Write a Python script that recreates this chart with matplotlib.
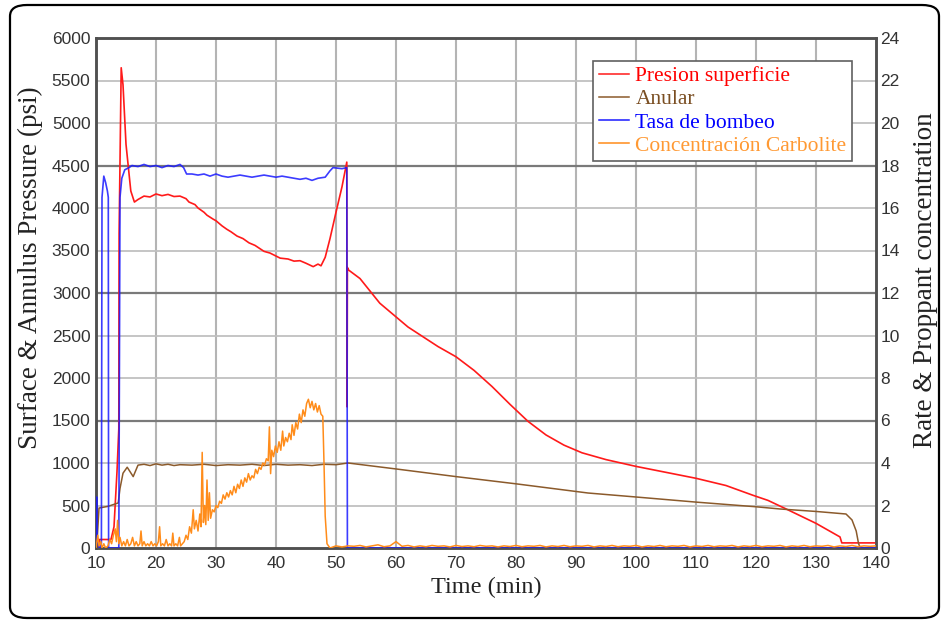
import matplotlib
matplotlib.use("Agg")
import matplotlib.pyplot as plt
from matplotlib.patches import FancyBboxPatch
from matplotlib.lines import Line2D

# ---- Presion superficie (psi) ----
pres_t = [10.3, 10.6, 12.5, 13.0, 13.5, 13.8, 13.85, 14.2, 14.5, 15.0, 15.8, 16.4, 17.0, 18.0,
          19.0, 20.0, 21.0, 22.0, 23.0, 24.0, 25.0, 25.5, 26.5, 27.0, 28.0, 28.5, 29.5, 30.0,
          31.0, 31.8, 32.5, 33.5, 34.5, 35.5, 36.5, 38.0, 39.0, 40.7, 42.0, 43.0, 44.0, 45.0,
          46.2, 47.0, 47.5, 48.2, 49.0, 50.0, 51.0, 51.8, 51.85, 51.9, 52.1, 54.0, 57.3, 62.0,
          67.0, 70.0, 73.0, 76.0, 79.0, 82.0, 85.0, 88.0, 91.0, 95.0, 100.0, 105.0, 110.0,
          115.0, 119.5, 122.0, 125.0, 130.0, 134.0, 134.3, 140.0]
pres_v = [0, 100, 100, 250, 900, 1400, 3700, 5650, 5450, 4750, 4200, 4070, 4100, 4140,
          4130, 4165, 4145, 4160, 4135, 4140, 4110, 4070, 4040, 4000, 3950, 3915, 3870, 3850,
          3790, 3750, 3720, 3670, 3640, 3590, 3560, 3490, 3470, 3410, 3400, 3375, 3380, 3350,
          3310, 3340, 3320, 3420, 3640, 3950, 4250, 4540, 1660, 3300, 3270, 3170, 2880, 2600,
          2370, 2250, 2090, 1900, 1690, 1490, 1330, 1210, 1120, 1040, 960, 890, 820,
          735, 620, 560, 460, 290, 130, 60, 60]

# ---- Anular (psi) ----
anul_t = [10.2, 10.5, 12.0, 13.7, 14.0, 14.5, 15.2, 16.2, 17.0, 18.0, 19.0, 20.0, 21.0,
          22.0, 23.0, 24.0, 26.0, 28.0, 30.0, 32.0, 34.0, 36.0, 38.0, 40.0, 42.0, 44.0,
          46.0, 48.0, 50.0, 52.0, 60.0, 70.0, 80.0, 92.0, 100.0, 110.0, 120.0, 124.0,
          130.0, 135.0, 136.0, 136.7, 137.1, 137.4, 140.0]
anul_v = [100, 470, 490, 530, 700, 880, 950, 840, 975, 985, 970, 990, 975,
          985, 970, 980, 975, 985, 970, 980, 975, 985, 970, 985, 975, 980,
          970, 985, 980, 1000, 930, 840, 755, 647, 600, 540, 485, 459,
          430, 400, 330, 200, 50, 0, 0]

# ---- Tasa de bombeo (right axis) ----
rate_t = [10.0, 10.1, 10.2, 10.6, 10.9, 11.0, 11.3, 11.6, 11.9, 12.05, 12.1, 13.8, 14.0,
          14.3, 14.8, 15.5, 16.0, 17.0, 18.0, 19.0, 20.0, 21.0, 22.0, 23.0, 24.0, 24.6,
          25.1, 26.0, 27.0, 28.0, 29.0, 30.0, 31.0, 32.0, 33.0, 34.0, 35.0, 36.0, 37.0,
          38.0, 39.0, 40.0, 41.0, 42.0, 43.0, 44.0, 45.0, 46.0, 47.0, 48.2, 49.0, 49.5,
          51.0, 51.8, 51.9, 140.0]
rate_v = [0, 2.4, 0.3, 0, 0.2, 16.5, 17.5, 17.2, 16.8, 16.5, 0, 0, 16.5,
          17.4, 17.8, 17.9, 18.0, 17.95, 18.05, 17.95, 18.0, 17.9, 18.0, 17.95, 18.05, 17.9,
          17.6, 17.6, 17.55, 17.6, 17.5, 17.6, 17.5, 17.45, 17.5, 17.55, 17.5, 17.45, 17.5,
          17.55, 17.5, 17.45, 17.5, 17.45, 17.4, 17.35, 17.4, 17.3, 17.4, 17.45, 17.75, 17.9,
          17.85, 17.9, 0, 0]

# ---- Concentracion Carbolite (right axis), in three stretches ----
conc_early_t = [10.0, 10.3, 10.5, 10.8, 11.0, 11.3, 11.6, 12.0, 12.3, 12.6, 12.9, 13.2, 13.4,
                13.6, 13.8, 14.0, 14.3, 14.6, 14.9, 15.2, 15.5, 15.8, 16.1, 16.4, 16.7, 17.0,
                17.3, 17.5, 17.7, 18.0, 18.3, 18.6, 18.9, 19.2, 19.5, 19.8, 20.1, 20.4, 20.6,
                20.8, 21.1, 21.4, 21.7, 22.0, 22.3, 22.6, 22.8, 23.0, 23.3, 23.6, 23.9, 24.1,
                24.4]
conc_early_v = [0.0, 0.6, 0.1, 0.3, 0.0, 0.2, 0.0, 0.1, 0.4, 0.2, 0.6, 0.9, 0.3,
                1.3, 0.2, 0.5, 0.1, 0.3, 0.1, 0.4, 0.1, 0.2, 0.5, 0.1, 0.3, 0.1,
                0.2, 0.8, 0.1, 0.3, 0.1, 0.2, 0.1, 0.3, 0.1, 0.2, 0.1, 0.3, 1.0,
                0.1, 0.2, 0.1, 0.4, 0.1, 0.2, 0.1, 0.7, 0.1, 0.2, 0.1, 0.5, 0.1,
                0.2]
conc_ramp_t = [24.7, 25.0, 25.3, 25.6, 25.9, 26.2, 26.4, 26.7, 27.0, 27.3, 27.5, 27.7,
               27.9, 28.1, 28.3, 28.5, 28.7, 28.9, 29.1, 29.4, 29.7, 30.0, 30.3, 30.6, 30.9,
               31.2, 31.5, 31.8, 32.1, 32.4, 32.7, 33.0, 33.3, 33.6, 33.9, 34.2, 34.5, 34.8,
               35.1, 35.4, 35.7, 36.0, 36.3, 36.6, 36.9, 37.2, 37.5, 37.8, 38.1, 38.4, 38.7,
               38.9, 39.1, 39.3, 39.6, 39.9, 40.2, 40.5, 40.8, 41.1, 41.3, 41.6, 41.9, 42.2,
               42.5, 42.7, 43.0, 43.3, 43.6, 43.9, 44.2, 44.5, 44.8, 45.1, 45.4, 45.7, 46.0,
               46.3, 46.6, 46.9, 47.2, 47.5, 47.8, 48.0, 48.2, 48.5, 49.0]
conc_ramp_v = [0.3, 0.6, 0.4, 1.0, 0.7, 1.8, 0.9, 1.3, 0.8, 1.6, 1.0, 4.5,
               1.2, 2.0, 1.1, 3.2, 1.3, 2.6, 1.4, 1.8, 1.7, 2.0, 1.9, 2.2, 2.1,
               2.5, 2.3, 2.6, 2.4, 2.7, 2.5, 2.9, 2.6, 3.0, 2.8, 3.2, 2.9, 3.3,
               3.1, 3.5, 3.2, 3.4, 3.3, 3.7, 3.5, 3.8, 3.7, 4.0, 3.9, 4.2, 4.1,
               5.7, 3.5, 4.6, 4.3, 4.8, 4.5, 5.0, 4.6, 5.5, 4.8, 5.2, 5.0, 5.4,
               5.1, 5.8, 5.3, 5.9, 5.6, 6.3, 5.9, 6.5, 6.2, 6.8, 7.0, 6.6, 6.9,
               6.5, 6.8, 6.4, 6.7, 6.3, 6.2, 4.0, 1.5, 0.2, 0.0]
conc_tail_t = [49.5, 50, 51, 52, 53, 54, 55, 56, 57, 58,
               59, 60, 61, 62, 63, 64, 65, 66, 67, 68,
               69, 70, 71, 72, 73, 74, 75, 76, 77, 78,
               79, 80, 81, 82, 83, 84, 85, 86, 87, 88,
               89, 90, 91, 92, 93, 94, 95, 96, 97, 98,
               99, 100, 101, 102, 103, 104, 105, 106, 107, 108,
               109, 110, 111, 112, 113, 114, 115, 116, 117, 118,
               119, 120, 121, 122, 123, 124, 125, 126, 127, 128,
               129, 130, 131, 132, 133, 134, 135, 136, 137, 138,
               139, 140]
conc_tail_v = [0.05, 0.1, 0.05, 0.1, 0.08, 0.12, 0.05, 0.1, 0.15, 0.06,
               0.1, 0.3, 0.08, 0.12, 0.05, 0.1, 0.06, 0.12, 0.08, 0.1,
               0.05, 0.12, 0.07, 0.1, 0.06, 0.12, 0.08, 0.1, 0.05, 0.1,
               0.07, 0.12, 0.06, 0.1, 0.08, 0.12, 0.05, 0.1, 0.07, 0.12,
               0.06, 0.1, 0.08, 0.12, 0.05, 0.1, 0.07, 0.12, 0.06, 0.1,
               0.08, 0.12, 0.05, 0.1, 0.07, 0.12, 0.06, 0.1, 0.08, 0.12,
               0.05, 0.1, 0.07, 0.12, 0.06, 0.1, 0.08, 0.12, 0.05, 0.1,
               0.07, 0.12, 0.06, 0.1, 0.08, 0.12, 0.05, 0.1, 0.07, 0.12,
               0.06, 0.1, 0.08, 0.12, 0.05, 0.1, 0.07, 0.12, 0.06, 0.1,
               0.08, 0.1]
conc_t = conc_early_t + conc_ramp_t + conc_tail_t
conc_v = conc_early_v + conc_ramp_v + conc_tail_v

labels = ["Presion superficie", "Anular", "Tasa de bombeo", "Concentración Carbolite"]
line_colors = ["#ff1a1a", "#8b5a2b", "#1a1aff", "#ff8c1a"]
text_colors = ["#ff0000", "#7a4e22", "#0000ff", "#ff9933"]

x_ticks = [10, 20, 30, 40, 50, 60, 70, 80, 90, 100, 110, 120, 130, 140]
left_ticks = [0, 500, 1000, 1500, 2000, 2500, 3000, 3500, 4000, 4500, 5000, 5500, 6000]
right_ticks = [0, 2, 4, 6, 8, 10, 12, 14, 16, 18, 20, 22, 24]

tick_font = "Liberation Sans"
label_font = "Liberation Serif"
spine_col = "#505050"

fig = plt.figure(figsize=(9.48, 6.22), dpi=100)
fig.patch.set_facecolor("white")

# rounded outer frame
frame = FancyBboxPatch((10 / 948, 4 / 622), 929 / 948, 613 / 622,
                       boxstyle="round,pad=0,rounding_size=0.018",
                       transform=fig.transFigure, fill=False,
                       edgecolor="black", linewidth=1.6, zorder=0)
fig.patches.append(frame)

ax = fig.add_axes([96 / 948, 1 - 548 / 622, 780 / 948, 510 / 622])
ax2 = ax.twinx()

ax.set_xlim(10, 140)
ax.set_ylim(0, 6000)
ax2.set_ylim(0, 24)

# grid
for xv in x_ticks[1:-1]:
    ax.axvline(xv, color="#b4b4b4", lw=1.5, zorder=0.5)
for yv in left_ticks[1:-1]:
    dark = yv in (1500, 3000, 4500)
    ax.axhline(yv, color="#7a7a7a" if dark else "#c0c0c0",
               lw=1.6 if dark else 1.3, zorder=0.5)

ax.plot(pres_t, pres_v, color=line_colors[0], lw=1.2, zorder=3)
ax.plot(anul_t, anul_v, color=line_colors[1], lw=1.1, zorder=3)
ax2.plot(rate_t, rate_v, color=line_colors[2], lw=1.2, alpha=0.85, zorder=3)
ax2.plot(conc_t, conc_v, color=line_colors[3], lw=1.1, zorder=4)

ax.set_xticks(x_ticks)
ax.set_yticks(left_ticks)
ax2.set_yticks(right_ticks)
for a in (ax, ax2):
    a.tick_params(length=0, pad=3, labelsize=12.5, labelcolor="#333333")
    for lbl in a.get_xticklabels() + a.get_yticklabels():
        lbl.set_family(tick_font)
    for s in a.spines.values():
        s.set_color(spine_col)
        s.set_linewidth(1.8)
ax.tick_params(axis="x", pad=6)
ax.tick_params(axis="y", pad=4)

ax.set_xlabel("Time (min)", family=label_font, fontsize=17.5, labelpad=4, color="#222222")
ax.set_ylabel("Surface & Annulus Pressure (psi)", family=label_font, fontsize=19.5,
              color="#222222")
ax2.set_ylabel("Rate & Proppant concentration", family=label_font, fontsize=19.5,
               color="#222222")
ax.yaxis.set_label_coords(-0.068, 0.55)
ax2.yaxis.set_label_coords(1.048, 0.525)

handles = [Line2D([], [], color=c, lw=1.1) for c in line_colors]
leg = ax2.legend(handles, labels, loc="upper right", bbox_to_anchor=(0.969, 0.955),
                 borderaxespad=0, fancybox=False, framealpha=1, edgecolor="#606060",
                 prop={"family": label_font, "size": 15.5}, handlelength=1.4,
                 handletextpad=0.3, labelspacing=0.14, borderpad=0.25)
leg.get_frame().set_linewidth(1.2)
for txt, col in zip(leg.get_texts(), text_colors):
    txt.set_color(col)

fig.savefig("out.png", dpi=100, facecolor="white")
